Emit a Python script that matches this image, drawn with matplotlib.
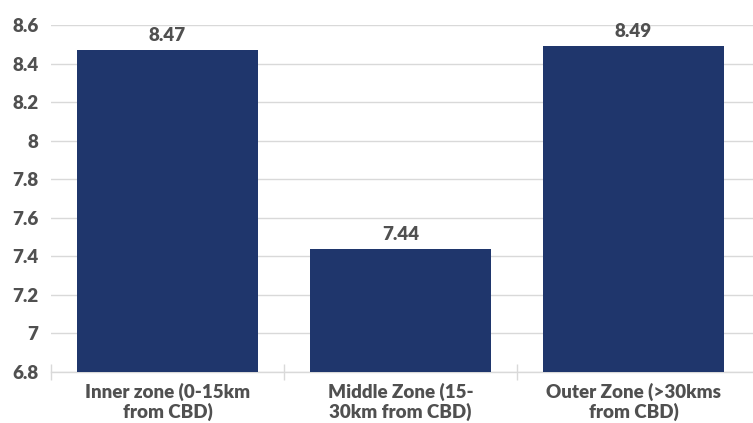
import matplotlib
matplotlib.use("Agg")
import matplotlib.pyplot as plt
from matplotlib.ticker import FixedLocator, NullFormatter

plt.rcParams['font.family'] = ['Lato', 'DejaVu Sans']

categories = ["Inner zone (0-15km\nfrom CBD)", "Middle Zone (15-\n30km from CBD)", "Outer Zone (>30kms\nfrom CBD)"]
values = [8.47, 7.44, 8.49]
yticks = [6.8, 7, 7.2, 7.4, 7.6, 7.8, 8, 8.2, 8.4, 8.6]
ytick_labels = ["6.8", "7", "7.2", "7.4", "7.6", "7.8", "8", "8.2", "8.4", "8.6"]

text_color = "#505050"
bar_color = "#1f366c"
grid_color = "#d9d9d9"
weight = "heavy"

fig = plt.figure(figsize=(7.53, 4.23), dpi=100)
ax = fig.add_axes([51 / 753, 1 - 372 / 423, 1 - 51 / 753, (372 - 25) / 423])

x = list(range(len(categories)))
ax.bar(x, [v - 6.8 for v in values], bottom=6.8, width=0.78, color=bar_color, zorder=3)

for xi, v in zip(x, values):
    ax.text(xi, v + 0.03, f"{v:.2f}", ha="center", va="bottom",
            fontsize=13.5, fontweight=weight, color=text_color)

ax.set_xlim(-0.5, 2.513)
ax.set_ylim(6.8, 8.6)
ax.set_yticks(yticks)
ax.set_yticklabels(ytick_labels)
ax.yaxis.grid(True, color=grid_color, linewidth=1.0, zorder=0)
ax.tick_params(axis="y", length=0, pad=9, labelsize=13.5, labelcolor=text_color)
for lbl in ax.get_yticklabels():
    lbl.set_fontweight(weight)

# category labels centred under the bars, ticks at the category boundaries
ax.set_xticks(x)
ax.set_xticklabels(categories)
ax.tick_params(axis="x", which="major", length=0, pad=8, labelsize=13.5, labelcolor=text_color)
for lbl in ax.get_xticklabels():
    lbl.set_fontweight(weight)
    lbl.set_linespacing(1.1)
ax.xaxis.set_minor_locator(FixedLocator([-0.5, 0.5, 1.5]))
ax.xaxis.set_minor_formatter(NullFormatter())
ax.tick_params(axis="x", which="minor", direction="inout", length=11.5, width=1.0, color=grid_color)

for side in ["top", "right", "left"]:
    ax.spines[side].set_visible(False)
ax.spines["bottom"].set_color(grid_color)
ax.spines["bottom"].set_linewidth(1.0)
ax.set_axisbelow(True)

fig.savefig("out.png", dpi=100)
